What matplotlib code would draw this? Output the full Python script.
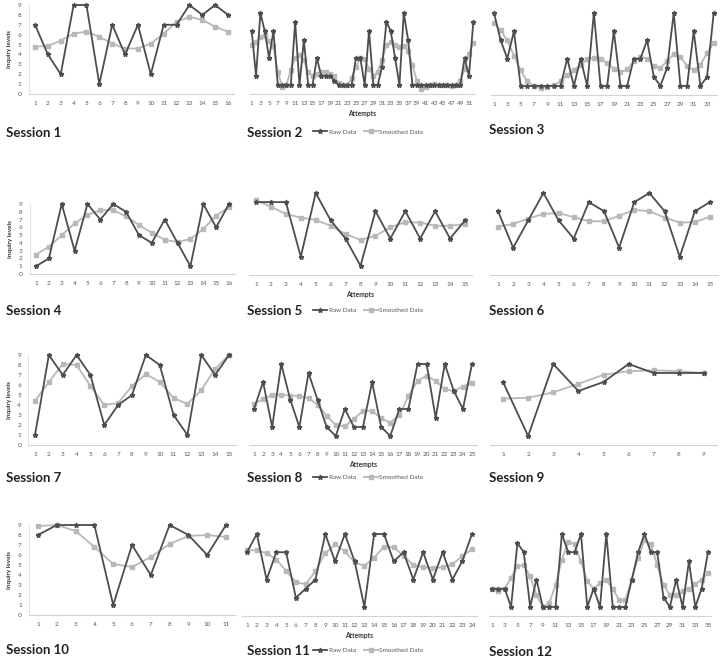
"""
Inquiry levels per attempt, raw vs smoothed, for 12 sessions
"""

import matplotlib
matplotlib.use('Agg')
from matplotlib import pyplot as plt

# raw and smoothed inquiry levels for each session
s1_raw = [7, 4, 2, 9, 9, 1, 7, 4, 7, 2, 7, 7, 9, 8, 9, 8]
s1_smooth = [4.8, 4.85, 5.4, 6.1, 6.3, 5.8, 5.1, 4.6, 4.6, 5.1, 6.1, 7.3, 7.8, 7.5, 6.8, 6.3]

s2_raw = [7, 2, 9, 7, 4, 7, 1, 1, 1, 1, 8, 1, 6, 1, 1, 4, 2, 2, 2, 1.5,
          1, 1, 1, 1, 4, 4, 1, 7, 1, 1, 3, 8, 7, 4, 1, 9, 6, 1, 1, 1,
          1, 1, 1, 1, 1, 1, 1, 1, 1, 4, 2, 8]
s2_smooth = [5.5, 5.8, 6.3, 6.4, 5.9, 5.3, 2.5, 0.8, 1.0, 2.7, 4.0, 4.3, 3.8, 2.4, 2.0, 2.2, 2.4, 2.4, 2.2, 2.0,
             1.2, 1.0, 1.0, 1.8, 3.0, 4.0, 3.9, 2.8, 2.0, 2.5, 3.8, 5.5, 5.8, 5.5, 5.2, 5.3, 4.8, 3.2, 1.5, 0.6,
             0.8, 1.0, 1.1, 1.0, 1.0, 1.0, 0.9, 1.0, 1.5, 2.8, 4.5, 5.7]

s3_raw = [9, 6, 4, 7, 1, 1, 1, 1, 1, 1, 1, 4, 1, 4, 1, 9, 1, 1, 7, 1,
          1, 4, 4, 6, 2, 1, 3, 9, 1, 1, 7, 1, 2, 9]
s3_smooth = [7.9, 7.1, 6.0, 4.3, 2.7, 1.5, 1.0, 0.8, 0.9, 1.1, 1.5, 2.2, 2.7, 3.3, 3.9, 4.1, 4.0, 3.5, 2.9, 2.5,
             2.8, 3.7, 4.2, 4.0, 3.2, 3.0, 3.7, 4.5, 4.2, 3.2, 2.7, 3.3, 4.6, 5.7]

s4_raw = [1, 2, 9, 3, 9, 7, 9, 8, 5, 4, 7, 4, 1, 9, 6, 9]
s4_smooth = [2.5, 3.5, 5.0, 6.5, 7.6, 8.2, 8.2, 7.4, 6.3, 5.3, 4.4, 4.1, 4.5, 5.8, 7.5, 8.6]

s5_raw = [8, 8, 8, 2, 9, 6, 4, 1, 7, 4, 7, 4, 7, 4, 6]
s5_smooth = [8.2, 7.5, 6.7, 6.3, 6.05, 5.4, 4.5, 3.85, 4.3, 5.25, 5.8, 5.75, 5.4, 5.4, 5.6]

s6_raw = [7, 3, 6, 9, 6, 4, 8, 7, 3, 8, 9, 7, 2, 7, 8]
s6_smooth = [5.3, 5.6, 6.2, 6.7, 6.8, 6.35, 5.9, 5.9, 6.5, 7.15, 7.0, 6.3, 5.75, 5.8, 6.4]

s7_raw = [1, 9, 7, 9, 7, 2, 4, 5, 9, 8, 3, 1, 9, 7, 9]
s7_smooth = [4.4, 6.3, 8.1, 8.0, 5.9, 4.0, 4.2, 5.9, 7.1, 6.3, 4.7, 4.1, 5.5, 7.6, 9.0]

s8_raw = [4, 7, 2, 9, 5, 2, 8, 5, 2, 1, 4, 2, 2, 7, 2, 1, 4, 4, 9, 9, 3, 9, 6, 4, 9]
s8_smooth = [4.6, 5.1, 5.55, 5.6, 5.5, 5.45, 5.2, 4.5, 3.25, 2.2, 2.1, 2.9, 3.8, 3.8, 2.95, 2.5, 3.3,
             5.45, 7.1, 7.7, 7.1, 6.2, 6.0, 6.5, 6.9]

s9_raw = [7, 1, 9, 6, 7, 9, 8, 8, 8]
s9_smooth = [5.15, 5.25, 5.85, 6.8, 7.8, 8.2, 8.3, 8.2, 8.0]

s10_raw = [8, 9, 9, 9, 1, 7, 4, 9, 8, 6, 9]
s10_smooth = [8.9, 9.0, 8.4, 6.8, 5.1, 4.8, 5.8, 7.1, 7.9, 8.0, 7.8]

s11_raw = [7, 9, 4, 7, 7, 2, 3, 4, 9, 6, 9, 6, 1, 9, 9, 6, 7, 4, 7, 4, 7, 4, 6, 9]
s11_smooth = [7.25, 7.2, 6.9, 6.2, 4.95, 3.7, 3.5, 4.9, 6.9, 7.85, 7.1, 5.9, 5.5, 6.4, 7.6, 7.55,
              6.6, 5.6, 5.35, 5.25, 5.35, 5.7, 6.55, 7.35]

s12_raw = [3, 3, 3, 1, 8, 7, 1, 4, 1, 1, 1, 9, 7, 7, 9, 1, 3, 1, 9, 1,
           1, 1, 4, 7, 9, 7, 7, 2, 1, 4, 1, 6, 1, 3, 7]
s12_smooth = [3.0, 2.7, 3.0, 4.2, 5.45, 5.6, 4.35, 2.3, 1.0, 1.4, 3.4, 6.2, 8.1, 7.9, 6.0, 3.8, 3.0, 3.6,
              3.9, 3.0, 1.75, 1.75, 4.0, 6.4, 8.3, 7.9, 5.6, 3.4, 2.3, 2.3, 2.75, 3.0, 3.5, 4.0, 4.7]

sessions = ['Session %d' % i for i in range(1, 13)]
raw_all = [s1_raw, s2_raw, s3_raw, s4_raw, s5_raw, s6_raw,
           s7_raw, s8_raw, s9_raw, s10_raw, s11_raw, s12_raw]
smooth_all = [s1_smooth, s2_smooth, s3_smooth, s4_smooth, s5_smooth, s6_smooth,
              s7_smooth, s8_smooth, s9_smooth, s10_smooth, s11_smooth, s12_smooth]

W, H = 724, 662
RAW_C = '#4d4d4d'
SM_C = '#b8b8b8'
FONT = ['Lato', 'DejaVu Sans']

# pixel layout of each panel: first tick x, last tick x, y of level 0, y of level 9
layout = [
    (35, 228, 94, 5), (251.7, 473.3, 94, 13), (494, 713.7, 95, 13),
    (36, 229, 274, 204), (256, 465, 275, 193), (498, 710, 275, 193),
    (35, 229, 445, 355), (254, 472, 445, 364), (503, 704, 445, 364),
    (38, 226, 615, 525), (247, 472, 616, 534), (492, 708, 616, 534),
]
label_pos = [(6, 133), (247, 133), (489, 130),
             (6, 311), (247, 311), (489, 311),
             (6, 478), (247, 478), (489, 478),
             (6, 650), (247, 651), (489, 652)]

fig = plt.figure(figsize=(W / 100, H / 100), dpi=100)

for i in range(12):
    raw = raw_all[i]
    sm = smooth_all[i]
    n = len(raw)
    x1, xn, y0, y9 = layout[i]
    sp = (xn - x1) / (n - 1)
    left, right = x1 - 0.5 * sp, xn + 0.5 * sp
    ax = fig.add_axes([left / W, 1 - y0 / H, (right - left) / W, (y0 - y9) / H])
    x = list(range(1, n + 1))

    ax.plot(x, sm, color=SM_C, lw=1.3, marker='s', ms=3.2, clip_on=False, label='Smoothed Data')
    ax.plot(x, raw, color=RAW_C, lw=1.3, marker='*', ms=3.5, clip_on=False, label='Raw Data')
    ax.set_xlim(0.5, n + 0.5)
    ax.set_ylim(0, 9)

    if n > 30:
        ax.set_xticks(x[::2])
    else:
        ax.set_xticks(x)
    ax.tick_params(length=0, labelsize=4.6, colors='#555555', pad=5)
    for lab in ax.get_xticklabels():
        lab.set_family(FONT)

    for s in ['top', 'right']:
        ax.spines[s].set_visible(False)
    ax.spines['bottom'].set_color('#d3d3d3')
    ax.spines['bottom'].set_linewidth(0.8)

    col = i % 3
    if col == 0:
        ax.set_yticks(range(10))
        ax.spines['left'].set_color('#e2e2e2')
        ax.spines['left'].set_linewidth(0.8)
        ax.set_ylabel('Inquiry levels', fontsize=4.6, fontweight='bold', color='#333333',
                      family=FONT, labelpad=4)
        for lab in ax.get_yticklabels():
            lab.set_family(FONT)
    else:
        ax.set_yticks([])
        ax.spines['left'].set_visible(False)

    if col == 1:
        ax.set_xlabel('Attempts', fontsize=4.8, fontweight='bold', color='#333333',
                      family=FONT, labelpad=3)
        h, l = ax.get_legend_handles_labels()
        lx, ly = label_pos[i]
        ax.legend(h[::-1], l[::-1], loc='center left', ncol=2, frameon=False,
                  bbox_to_anchor=((lx + 60) / W, 1 - (ly - 1) / H), bbox_transform=fig.transFigure,
                  prop={'family': FONT, 'size': 4.6}, labelcolor='#555555',
                  handlelength=2.2, columnspacing=1.2, handletextpad=0.3)

    lx, ly = label_pos[i]
    fig.text(lx / W, 1 - ly / H, sessions[i], fontsize=9.5, fontweight='bold',
             family=FONT, color='#222222', va='center', ha='left')

fig.savefig('out.png', dpi=100, facecolor='white')
